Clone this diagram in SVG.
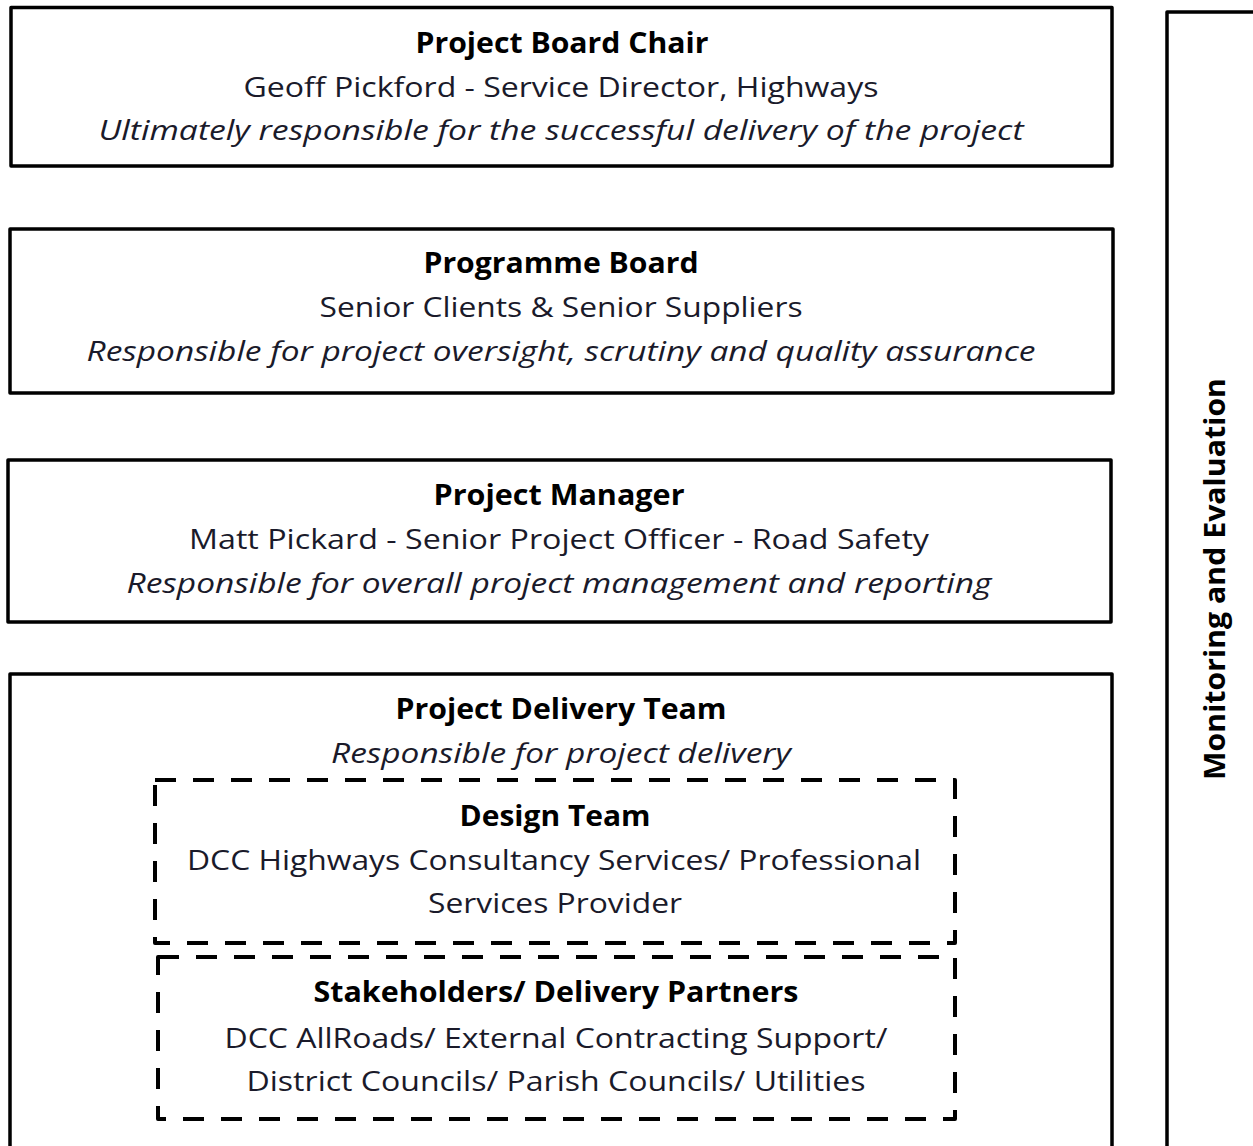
<svg xmlns="http://www.w3.org/2000/svg" width="1253" height="1146" viewBox="0 0 1253 1146">
<style>
.box{fill:#fff;stroke:#000;stroke-width:3.5;stroke-linejoin:round}
.dash{fill:none;stroke:#000;stroke-width:4;stroke-dasharray:21 17;stroke-linejoin:round}
text{font-family:"Open Sans","Liberation Sans",sans-serif;font-size:28px;fill:#1a1a2a;text-anchor:middle}
.b{font-weight:bold;fill:#000}
.i{font-style:italic}
</style>
<rect width="1253" height="1146" fill="#fff"/>
<g id="monitoring">
<rect class="box" x="1167" y="12" width="120" height="1200"/>
<text class="b" transform="translate(1225,579) rotate(-90)" textLength="402" lengthAdjust="spacingAndGlyphs">Monitoring and Evaluation</text>
</g>
<g id="board-chair">
<rect class="box" x="11" y="7.5" width="1101" height="158.5"/>
<text class="b" x="562" y="53" textLength="293" lengthAdjust="spacingAndGlyphs">Project Board Chair</text>
<text x="561" y="97" textLength="635" lengthAdjust="spacingAndGlyphs">Geoff Pickford - Service Director, Highways</text>
<text class="i" x="561" y="140" textLength="925" lengthAdjust="spacingAndGlyphs">Ultimately responsible for the successful delivery of the project</text>
</g>
<g id="programme-board">
<rect class="box" x="10" y="229" width="1103" height="164"/>
<text class="b" x="561" y="273" textLength="275" lengthAdjust="spacingAndGlyphs">Programme Board</text>
<text x="561" y="317" textLength="483" lengthAdjust="spacingAndGlyphs">Senior Clients &amp; Senior Suppliers</text>
<text class="i" x="561" y="361" textLength="949" lengthAdjust="spacingAndGlyphs">Responsible for project oversight, scrutiny and quality assurance</text>
</g>
<g id="project-manager">
<rect class="box" x="8" y="460" width="1103" height="162"/>
<text class="b" x="559" y="505" textLength="251" lengthAdjust="spacingAndGlyphs">Project Manager</text>
<text x="559" y="549" textLength="740" lengthAdjust="spacingAndGlyphs">Matt Pickard - Senior Project Officer - Road Safety</text>
<text class="i" x="559" y="593" textLength="865" lengthAdjust="spacingAndGlyphs">Responsible for overall project management and reporting</text>
</g>
<g id="delivery-team">
<rect class="box" x="10" y="674" width="1102" height="540"/>
<text class="b" x="561" y="719" textLength="331" lengthAdjust="spacingAndGlyphs">Project Delivery Team</text>
<text class="i" x="561" y="763" textLength="460" lengthAdjust="spacingAndGlyphs">Responsible for project delivery</text>
</g>
<g id="design-team">
<rect class="dash" x="155" y="780" width="800" height="163"/>
<text class="b" x="555" y="826" textLength="191" lengthAdjust="spacingAndGlyphs">Design Team</text>
<text x="554" y="870" textLength="734" lengthAdjust="spacingAndGlyphs">DCC Highways Consultancy Services/ Professional</text>
<text x="555" y="913" textLength="254" lengthAdjust="spacingAndGlyphs">Services Provider</text>
</g>
<g id="stakeholders">
<rect class="dash" x="158" y="957" width="797" height="162"/>
<text class="b" x="556" y="1002" textLength="485" lengthAdjust="spacingAndGlyphs">Stakeholders/ Delivery Partners</text>
<text x="556" y="1048" textLength="663" lengthAdjust="spacingAndGlyphs">DCC AllRoads/ External Contracting Support/</text>
<text x="556" y="1091" textLength="619" lengthAdjust="spacingAndGlyphs">District Councils/ Parish Councils/ Utilities</text>
</g>
<g id="connectors"></g>
</svg>
